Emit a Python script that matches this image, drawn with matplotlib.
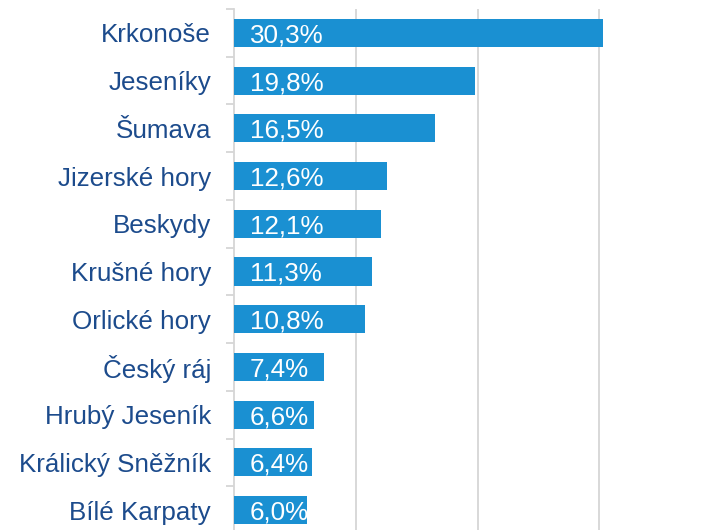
import matplotlib.pyplot as plt
import numpy as np

plt.rcParams['font.family'] = ['Liberation Sans', 'DejaVu Sans']

# data
regions = ['Krkonoše', 'Jeseníky', 'Šumava', 'Jizerské hory', 'Beskydy',
           'Krušné hory', 'Orlické hory', 'Český ráj', 'Hrubý Jeseník',
           'Králický Sněžník', 'Bílé Karpaty']
shares = [30.3, 19.8, 16.5, 12.6, 12.1, 11.3, 10.8, 7.4, 6.6, 6.4, 6.0]
grid_ticks = [10, 20, 30]

bar_color = '#1a90d2'
text_color = '#1c4b8c'
line_color = '#d6d6d6'

W, H = 707, 530
fig = plt.figure(figsize=(W / 100, H / 100), dpi=100)
# plot area runs past the right and bottom edges (cropped like the source)
ax = fig.add_axes([234 / W, 1 - 534 / H, 487 / W, (534 - 9) / H])

y = np.arange(len(regions))
ax.barh(y, shares, height=0.59, color=bar_color, zorder=3)
ax.set_ylim(len(regions) - 0.5, -0.5)
ax.set_xlim(0, 40)

for yi, v in zip(y, shares):
    ax.annotate(f'{v:.1f}%'.replace('.', ','), (0, yi), xytext=(16, 0),
                textcoords='offset pixels', ha='left', va='center_baseline',
                color='white', fontsize=18.7, zorder=4)

ax.set_xticks(grid_ticks)
ax.tick_params(axis='x', length=0, labelbottom=False)
ax.grid(axis='x', color=line_color, linewidth=1.3, zorder=0)

ax.set_yticks(y)
ax.set_yticklabels(regions, fontsize=18.7, color=text_color)
ax.set_yticks(np.arange(len(regions) + 1) - 0.5, minor=True)
ax.tick_params(axis='y', which='major', length=0, pad=16.5)
ax.tick_params(axis='y', which='minor', length=5.8, width=1.3, color=line_color)

for s in ['top', 'right', 'bottom']:
    ax.spines[s].set_visible(False)
ax.spines['left'].set_color(line_color)
ax.spines['left'].set_linewidth(1.3)

fig.savefig('out.png', dpi=100)
